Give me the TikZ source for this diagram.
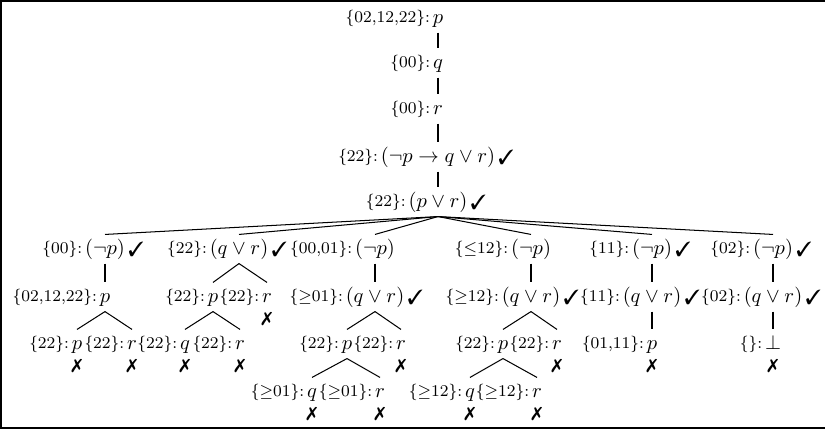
\documentclass[tikz,border=0pt]{standalone}
\usepackage{pifont}
\tikzset{tab node/.style={inner xsep=1pt, inner ysep=1.9pt, text height=7.5pt, text depth=2.5pt}}
\tikzset{tab edge/.style={draw=black, line width=0.5pt}}
\tikzset{set label/.style={font=\footnotesize, inner sep=0pt, label distance=0pt}}
\tikzset{tick label/.style={inner sep=0pt, label distance=0.2pt}}
\tikzset{cross label/.style={inner sep=0pt, label distance=0pt, font=\small}}
\tikzset{tabset/.style={label={[set label]left:{\{#1\}:}}}}
\tikzset{checked/.style={label={[tick label]right:{\ding{51}}}}}
\tikzset{crossed/.style={label={[cross label]below:{\ding{55}}}}}

\begin{document}
\begin{tikzpicture}[x=0.4875pt,y=-0.4875pt]
		\useasboundingbox (0,0) rectangle (825,429);
		\draw[line width=1.2pt] (1.2,1.2) rectangle (832,427.8);

		% trunk
		\node[tab node, tabset={02,12,22}] (p0) at (438,18) {$p$};
		\node[tab node, tabset={00}] (q0) at (438,63) {$q$};
		\node[tab node, tabset={00}] (r0) at (438,109) {$r$};
		\node[tab node, tabset={22}, checked] (imp) at (438,157) {$(\neg p\rightarrow q\vee r)$};
		\node[tab node, tabset={22}, checked] (disj) at (438,202) {$(p\vee r)$};

		\draw[tab edge] (p0.south) -- (q0.north);
		\draw[tab edge] (q0.south) -- (r0.north);
		\draw[tab edge] (r0.south) -- (imp.north);
		\draw[tab edge] (imp.south) -- (disj.north);

		% six branches
		\node[tab node, tabset={00}, checked] (a1) at (105,249) {$(\neg p)$};
		\node[tab node, tabset={22}, checked] (b1) at (239,249) {$(q\vee r)$};
		\node[tab node, tabset={00,01}] (c1) at (375,249) {$(\neg p)$};
		\node[tab node, tabset={$\leq$12}] (d1) at (531,249) {$(\neg p)$};
		\node[tab node, tabset={11}, checked] (e1) at (652,249) {$(\neg p)$};
		\node[tab node, tabset={02}, checked] (f1) at (773,249) {$(\neg p)$};

		\draw[tab edge] (disj.south) -- (a1.north);
		\draw[tab edge] (disj.south) -- (b1.north);
		\draw[tab edge] (disj.south) -- (c1.north);
		\draw[tab edge] (disj.south) -- (d1.north);
		\draw[tab edge] (disj.south) -- (e1.north);
		\draw[tab edge] (disj.south) -- (f1.north);

		\node[tab node, tabset={02,12,22}] (a2) at (105,297) {$p$};
		\node[tab node, tabset={22}] (b2) at (213,297) {$p$};
		\node[tab node, tabset={22}, crossed] (b3) at (267,297) {$r$};
		\node[tab node, tabset={$\geq$01}, checked] (c2) at (375,297) {$(q\vee r)$};
		\node[tab node, tabset={$\geq$12}, checked] (d2) at (531,297) {$(q\vee r)$};
		\node[tab node, tabset={11}, checked] (e2) at (652,297) {$(q\vee r)$};
		\node[tab node, tabset={02}, checked] (f2) at (773,297) {$(q\vee r)$};

		\draw[tab edge] (a1.south) -- (a2.north);
		\draw[tab edge] (b1.south) -- (b2.north);
		\draw[tab edge] (b1.south) -- (b3.north);
		\draw[tab edge] (c1.south) -- (c2.north);
		\draw[tab edge] (d1.south) -- (d2.north);
		\draw[tab edge] (e1.south) -- (e2.north);
		\draw[tab edge] (f1.south) -- (f2.north);

		\node[tab node, tabset={22}, crossed] (a3) at (77,344) {$p$};
		\node[tab node, tabset={22}, crossed] (a4) at (132,344) {$r$};
		\node[tab node, tabset={22}, crossed] (b4) at (185,344) {$q$};
		\node[tab node, tabset={22}, crossed] (b5) at (240,344) {$r$};
		\node[tab node, tabset={22}] (c3) at (347,344) {$p$};
		\node[tab node, tabset={22}, crossed] (c4) at (401,344) {$r$};
		\node[tab node, tabset={22}] (d3) at (503,344) {$p$};
		\node[tab node, tabset={22}, crossed] (d4) at (557,344) {$r$};
		\node[tab node, tabset={01,11}, crossed] (e3) at (652,344) {$p$};
		\node[tab node, tabset={}, crossed] (f3) at (773,344) {$\bot$};

		\draw[tab edge] (a2.south) -- (a3.north);
		\draw[tab edge] (a2.south) -- (a4.north);
		\draw[tab edge] (b2.south) -- (b4.north);
		\draw[tab edge] (b2.south) -- (b5.north);
		\draw[tab edge] (c2.south) -- (c3.north);
		\draw[tab edge] (c2.south) -- (c4.north);
		\draw[tab edge] (d2.south) -- (d3.north);
		\draw[tab edge] (d2.south) -- (d4.north);
		\draw[tab edge] (e2.south) -- (e3.north);
		\draw[tab edge] (f2.south) -- (f3.north);

		\node[tab node, tabset={$\geq$01}, crossed] (c5) at (312,392) {$q$};
		\node[tab node, tabset={$\geq$01}, crossed] (c6) at (380,392) {$r$};
		\node[tab node, tabset={$\geq$12}, crossed] (d5) at (470,392) {$q$};
		\node[tab node, tabset={$\geq$12}, crossed] (d6) at (537,392) {$r$};

		\draw[tab edge] (c3.south) -- (c5.north);
		\draw[tab edge] (c3.south) -- (c6.north);
		\draw[tab edge] (d3.south) -- (d5.north);
		\draw[tab edge] (d3.south) -- (d6.north);
	\end{tikzpicture}
\end{document}
